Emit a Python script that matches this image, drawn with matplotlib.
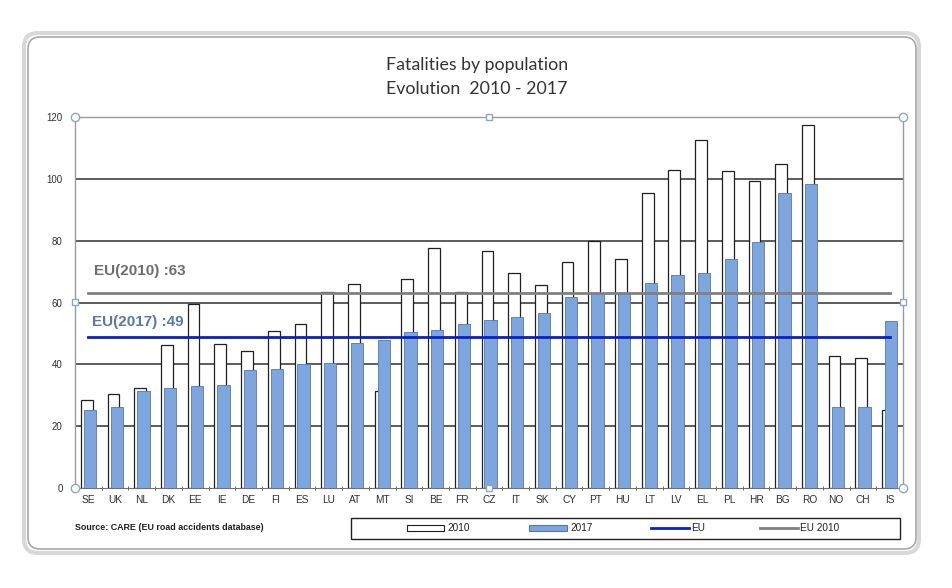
import matplotlib.pyplot as plt
import numpy as np
from matplotlib.patches import FancyBboxPatch, Rectangle
from matplotlib.lines import Line2D

# data
countries = ['SE', 'UK', 'NL', 'DK', 'EE', 'IE', 'DE', 'FI', 'ES', 'LU', 'AT', 'MT', 'SI', 'BE', 'FR',
             'CZ', 'IT', 'SK', 'CY', 'PT', 'HU', 'LT', 'LV', 'EL', 'PL', 'HR', 'BG', 'RO', 'NO', 'CH', 'IS']
v2010 = [28.5, 30.3, 32.3, 46.2, 59.4, 46.6, 44.4, 50.7, 53.0, 63.5, 66.0, 31.4, 67.5, 77.6, 63.5,
         76.8, 69.4, 65.7, 73.2, 79.8, 74.1, 95.3, 102.8, 112.5, 102.5, 99.2, 104.7, 117.3, 42.7, 41.9, 25.2]
v2017 = [25.2, 26.1, 31.5, 32.3, 33.0, 33.4, 38.2, 38.6, 40.0, 40.5, 46.8, 47.9, 50.5, 51.1, 53.0,
         54.4, 55.4, 56.7, 61.9, 63.0, 63.0, 66.4, 68.9, 69.4, 74.2, 79.6, 95.3, 98.3, 26.1, 26.1, 54.1]
eu2010 = 63
eu2017 = 49
yticks = [0, 20, 40, 60, 80, 100, 120]

W, H = 952, 588
fig = plt.figure(figsize=(W / 100, H / 100), dpi=100)
plt.rcParams['font.family'] = ['Liberation Sans', 'DejaVu Sans']

def px(x0, y0, x1, y1):
    return [x0 / W, 1 - y1 / H, (x1 - x0) / W, (y1 - y0) / H]

# background overlay (frame)
bg = fig.add_axes([0, 0, 1, 1], zorder=0)
bg.set_xlim(0, W)
bg.set_ylim(H, 0)
bg.axis('off')
bg.add_patch(FancyBboxPatch((24, 33), 895, 520, boxstyle='round,pad=0,rounding_size=14',
                            fc='none', ec='#d8d8d8', lw=3))
bg.add_patch(FancyBboxPatch((28, 37), 888, 512, boxstyle='round,pad=0,rounding_size=12',
                            fc='white', ec='#a8a8a8', lw=1.2))

# main chart
ax = fig.add_axes(px(75, 117, 903, 488), zorder=1)
ax.patch.set_alpha(0)
x = np.arange(len(countries))
ax.set_xlim(-0.5, len(countries) - 0.5)
ax.set_ylim(0, 120)

for t in yticks[1:-1]:
    ax.axhline(t, color='#303030', lw=1.1, zorder=1)

ax.bar(x - 0.06, v2010, width=0.44, color='white', edgecolor='#202020', lw=0.9, zorder=2)
ax.bar(x + 0.06, v2017, width=0.46, color='#7ea6dc', edgecolor='#5878a8', lw=0.6, zorder=3)

ax.plot([0, len(countries) - 1], [eu2010, eu2010], color='#808080', lw=2, zorder=4)
ax.plot([0, len(countries) - 1], [eu2017, eu2017], color='#0a1fcc', lw=2, zorder=5)
ax.text(0.2, 70.2, 'EU(2010) :63', color='#6e6e6e', fontsize=11, fontweight='bold',
        va='center', zorder=6)
ax.text(0.13, 53.7, 'EU(2017) :49', color='#5a7aa6', fontsize=11, fontweight='bold',
        va='center', zorder=6)

ax.set_yticks(yticks)
ax.set_yticklabels([str(t) for t in yticks], fontsize=7, color='#303030')
ax.tick_params(axis='y', length=0, pad=9)
ax.set_xticks(x)
ax.set_xticklabels(countries, fontsize=7.3, color='#303030')
ax.tick_params(axis='x', length=0, pad=5)
ax.set_xticks(np.arange(-0.5, len(countries)), minor=True)
ax.tick_params(axis='x', which='minor', length=3, direction='inout', color='#505050')

for side in ['top', 'right', 'left']:
    ax.spines[side].set_color('#9a9a9a')
    ax.spines[side].set_linewidth(1.0)
ax.spines['bottom'].set_color('#707070')

# overlay: title, source, legend, handles
ov = fig.add_axes([0, 0, 1, 1], zorder=2)
ov.set_xlim(0, W)
ov.set_ylim(H, 0)
ov.axis('off')
ov.patch.set_alpha(0)

ov.text(477, 65, 'Fatalities by population', ha='center', va='center', fontsize=12.8,
        family=['Lato', 'DejaVu Sans'], color='#333333')
ov.text(477, 89, 'Evolution  2010 - 2017', ha='center', va='center', fontsize=12.8,
        family=['Lato', 'DejaVu Sans'], color='#333333')

ov.text(75, 528, 'Source: CARE (EU road accidents database)', ha='left', va='center',
        fontsize=6.4, fontweight='bold', color='#202020')

ov.add_patch(Rectangle((351, 518), 549, 21, fc='white', ec='#202020', lw=1))
ov.add_patch(Rectangle((407, 525), 37, 6, fc='white', ec='#202020', lw=0.8))
ov.text(447, 528, '2010', ha='left', va='center', fontsize=7.2, color='#202020')
ov.add_patch(Rectangle((529, 525), 38, 6, fc='#7ea6dc', ec='#5878a8', lw=0.8))
ov.text(570, 528, '2017', ha='left', va='center', fontsize=7.2, color='#202020')
ov.add_line(Line2D([651, 689], [528, 528], color='#0a1fcc', lw=2))
ov.text(691, 528, 'EU', ha='left', va='center', fontsize=7.2, color='#202020')
ov.add_line(Line2D([760, 798], [528, 528], color='#808080', lw=2))
ov.text(800, 528, 'EU 2010', ha='left', va='center', fontsize=7.2, color='#202020')

# selection handles around plot area
for hx, hy in [(75, 117), (903, 117), (75, 488), (903, 488)]:
    ov.plot(hx, hy, 'o', ms=6, mfc='white', mec='#8fa8c0', mew=1)
for hx, hy in [(489, 117), (75, 302), (903, 302), (489, 488)]:
    ov.plot(hx, hy, 's', ms=5, mfc='white', mec='#8fa8c0', mew=1)

fig.savefig('out.png', dpi=100)
